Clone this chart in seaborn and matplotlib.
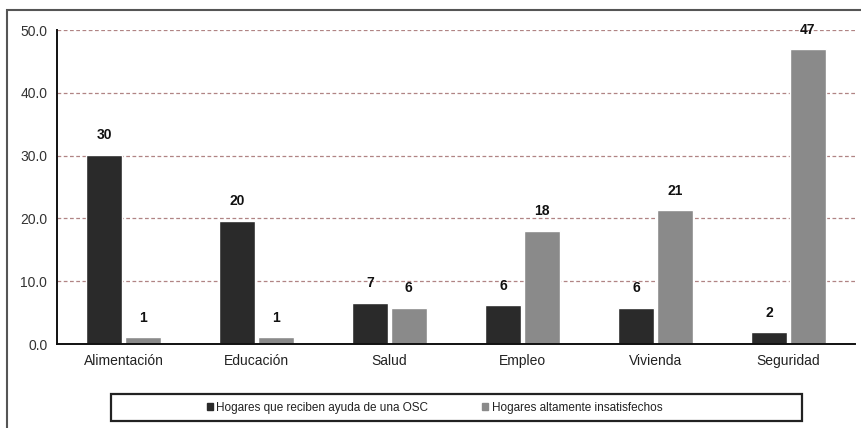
import matplotlib
matplotlib.use("Agg")
import matplotlib.pyplot as plt
from matplotlib.patches import Rectangle
import seaborn as sns
import pandas as pd

categorias = ["Alimentación", "Educación", "Salud", "Empleo", "Vivienda", "Seguridad"]
ayuda_osc = [30.1, 19.6, 6.6, 6.2, 5.8, 1.9]
insatisfechos = [1.1, 1.1, 5.8, 18.0, 21.3, 46.9]
series = ["Hogares que reciben ayuda de una OSC", "Hogares altamente insatisfechos"]

df = pd.DataFrame({
    "categoria": categorias * 2,
    "valor": ayuda_osc + insatisfechos,
    "serie": [series[0]] * len(categorias) + [series[1]] * len(categorias),
})

sns.set_style("white")
plt.rcParams["font.family"] = ["Liberation Sans", "DejaVu Sans"]

fig = plt.figure(figsize=(8.61, 4.28), dpi=100)
ax = fig.add_axes([57 / 861, 84 / 428, 798 / 861, 314 / 428])

sns.barplot(data=df, x="categoria", y="valor", hue="serie", order=categorias,
            hue_order=series, palette=["#2a2a2a", "#8a8a8a"], width=0.58, gap=0.06,
            saturation=1, ax=ax, legend=False)

for c in ax.containers:
    ax.bar_label(c, fmt="%.0f", padding=9, fontsize=10, fontweight="bold", color="#111111")

ax.set_ylim(0, 50)
ax.set_xlim(-0.5, len(categorias) - 0.5)
ax.set_yticks([0, 10, 20, 30, 40, 50])
ax.set_yticklabels([f"{v:.1f}" for v in [0, 10, 20, 30, 40, 50]])
ax.yaxis.grid(True, color="#b08484", linestyle=(0, (3, 2)), linewidth=0.9)
ax.set_axisbelow(True)
ax.set_xlabel("")
ax.set_ylabel("")

# ticks en los bordes entre categorías
ax.set_xticks([i + 0.5 for i in range(len(categorias))], minor=True)
ax.tick_params(axis="x", which="major", length=0, labelsize=10, colors="#222222", pad=7)
ax.tick_params(axis="x", which="minor", length=4, width=1, color="#222222", direction="out")
ax.tick_params(axis="y", length=4, width=1, labelsize=10, direction="out", pad=3,
               colors="#222222", labelcolor="#333333")

for s in ["top", "right"]:
    ax.spines[s].set_visible(False)
for s in ["left", "bottom"]:
    ax.spines[s].set_color("#111111")
    ax.spines[s].set_linewidth(1.4)

# marco exterior
fig.patches.append(Rectangle((7 / 861, -0.1), 2, 1.1 - 10 / 428, transform=fig.transFigure,
                             fill=False, edgecolor="#555555", linewidth=1.5))

# caja de leyenda
fig.patches.append(Rectangle((111 / 861, 1 - 421 / 428), 691 / 861, 27 / 428,
                             transform=fig.transFigure, fill=False, edgecolor="#222222",
                             linewidth=1.6))

handles = [Rectangle((0, 0), 1, 1, color="#2a2a2a"), Rectangle((0, 0), 1, 1, color="#8a8a8a")]
fig.legend(handles, series, loc="center left", bbox_to_anchor=(196 / 861, 1 - 407.5 / 428),
           ncol=2, frameon=False, fontsize=8.5, handlelength=0.5, handleheight=0.5,
           handletextpad=0.3, columnspacing=4.6, labelcolor="#222222")

fig.savefig("out.png", dpi=100)
